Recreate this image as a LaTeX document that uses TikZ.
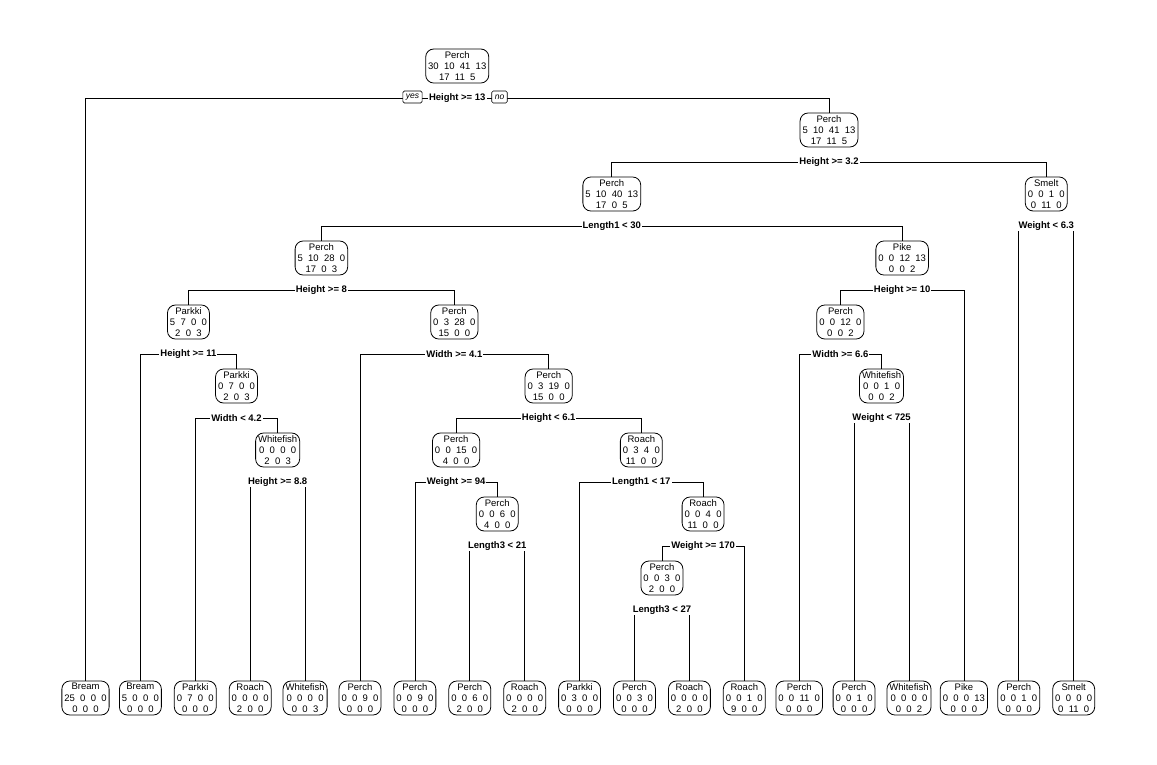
\documentclass[tikz,border=0pt]{standalone}
\usepackage{fontspec}
\setmainfont{Liberation Sans}
\usetikzlibrary{backgrounds}

\begin{document}
\begin{tikzpicture}[x=1pt, y=-1pt,
    fishbox/.style={draw, rounded corners=8pt, line width=0.8pt, align=center,
      font=\fontsize{9.5}{11.3}\selectfont, inner xsep=2.5pt, inner ysep=2pt, minimum height=34pt},
    splitlab/.style={fill=white, font=\fontsize{9.5}{11}\selectfont\bfseries, inner xsep=1pt, inner ysep=1pt},
    yesno/.style={draw, fill=white, rounded corners=1.5pt, line width=0.6pt,
      font=\fontsize{8.5}{9}\selectfont\itshape, inner xsep=3pt, inner ysep=1pt, minimum height=12pt},
    branch/.style={line width=0.8pt}]
  \useasboundingbox (0,0) rectangle (1157,764);

  % Inner nodes
  \node[fishbox] (n1) at (457.25,66) {Perch\\30~~10~~41~~13\\17~~11~~5};
  \node[fishbox] (n3) at (829,130) {Perch\\5~~10~~41~~13\\17~~11~~5};
  \node[fishbox] (n6) at (611.8,194) {Perch\\5~~10~~40~~13\\17~~0~~5};
  \node[fishbox] (n7) at (1046.25,194) {Smelt\\0~~0~~1~~0\\0~~11~~0};
  \node[fishbox] (n12) at (321.4,258) {Perch\\5~~10~~28~~0\\17~~0~~3};
  \node[fishbox] (n13) at (902.15,258) {Pike\\0~~0~~12~~13\\0~~0~~2};
  \node[fishbox] (n24) at (188.45,322) {Parkki\\5~~7~~0~~0\\2~~0~~3};
  \node[fishbox] (n25) at (454.35,322) {Perch\\0~~3~~28~~0\\15~~0~~0};
  \node[fishbox] (n26) at (840.4,322) {Perch\\0~~0~~12~~0\\0~~0~~2};
  \node[fishbox] (n49) at (236.5,386) {Parkki\\0~~7~~0~~0\\2~~0~~3};
  \node[fishbox] (n51) at (548.7,386) {Perch\\0~~3~~19~~0\\15~~0~~0};
  \node[fishbox] (n53) at (881.55,386) {Whitefish\\0~~0~~1~~0\\0~~0~~2};
  \node[fishbox] (n99) at (277.65,450) {Whitefish\\0~~0~~0~~0\\2~~0~~3};
  \node[fishbox] (n102) at (456.1,450) {Perch\\0~~0~~15~~0\\4~~0~~0};
  \node[fishbox] (n103) at (641.35,450) {Roach\\0~~3~~4~~0\\11~~0~~0};
  \node[fishbox] (n205) at (497.25,514) {Perch\\0~~0~~6~~0\\4~~0~~0};
  \node[fishbox] (n207) at (703.1,514) {Roach\\0~~0~~4~~0\\11~~0~~0};
  \node[fishbox] (n414) at (661.95,578) {Perch\\0~~0~~3~~0\\2~~0~~0};

  % Leaves
  \node[fishbox] (n2) at (85.5,698) {Bream\\25~~0~~0~~0\\0~~0~~0};
  \node[fishbox] (n48) at (140.4,698) {Bream\\5~~0~~0~~0\\0~~0~~0};
  \node[fishbox] (n98) at (195.3,698) {Parkki\\0~~7~~0~~0\\0~~0~~0};
  \node[fishbox] (n198) at (250.2,698) {Roach\\0~~0~~0~~0\\2~~0~~0};
  \node[fishbox] (n199) at (305.1,698) {Whitefish\\0~~0~~0~~0\\0~~0~~3};
  \node[fishbox] (n50) at (360,698) {Perch\\0~~0~~9~~0\\0~~0~~0};
  \node[fishbox] (n204) at (414.9,698) {Perch\\0~~0~~9~~0\\0~~0~~0};
  \node[fishbox] (n410) at (469.8,698) {Perch\\0~~0~~6~~0\\2~~0~~0};
  \node[fishbox] (n411) at (524.7,698) {Roach\\0~~0~~0~~0\\2~~0~~0};
  \node[fishbox] (n206) at (579.6,698) {Parkki\\0~~3~~0~~0\\0~~0~~0};
  \node[fishbox] (n828) at (634.5,698) {Perch\\0~~0~~3~~0\\0~~0~~0};
  \node[fishbox] (n829) at (689.4,698) {Roach\\0~~0~~0~~0\\2~~0~~0};
  \node[fishbox] (n415) at (744.3,698) {Roach\\0~~0~~1~~0\\9~~0~~0};
  \node[fishbox] (n52) at (799.2,698) {Perch\\0~~0~~11~~0\\0~~0~~0};
  \node[fishbox] (n106) at (854.1,698) {Perch\\0~~0~~1~~0\\0~~0~~0};
  \node[fishbox] (n107) at (909,698) {Whitefish\\0~~0~~0~~0\\0~~0~~2};
  \node[fishbox] (n27) at (963.9,698) {Pike\\0~~0~~0~~13\\0~~0~~0};
  \node[fishbox] (n14) at (1018.8,698) {Perch\\0~~0~~1~~0\\0~~0~~0};
  \node[fishbox] (n15) at (1073.7,698) {Smelt\\0~~0~~0~~0\\0~~11~~0};

  % Split labels
  \node[splitlab] (s1) at (457.25,98) {Height >= 13};
  \node[yesno] (yes) at (412.5,97) {yes};
  \node[yesno] (no) at (499.5,97) {no};
  \node[splitlab] (s3) at (829,162) {Height >= 3.2};
  \node[splitlab] (s6) at (611.8,226) {Length1 < 30};
  \node[splitlab] (s7) at (1046.25,226) {Weight < 6.3};
  \node[splitlab] (s12) at (321.4,290) {Height >= 8};
  \node[splitlab] (s13) at (902.15,290) {Height >= 10};
  \node[splitlab] (s24) at (188.45,354) {Height >= 11};
  \node[splitlab] (s25) at (454.35,354) {Width >= 4.1};
  \node[splitlab] (s26) at (840.4,354) {Width >= 6.6};
  \node[splitlab] (s49) at (236.5,418) {Width < 4.2};
  \node[splitlab] (s51) at (548.7,418) {Height < 6.1};
  \node[splitlab] (s53) at (881.55,418) {Weight < 725};
  \node[splitlab] (s99) at (277.65,482) {Height >= 8.8};
  \node[splitlab] (s102) at (456.1,482) {Weight >= 94};
  \node[splitlab] (s103) at (641.35,482) {Length1 < 17};
  \node[splitlab] (s205) at (497.25,546) {Length3 < 21};
  \node[splitlab] (s207) at (703.1,546) {Weight >= 170};
  \node[splitlab] (s414) at (661.95,610) {Length3 < 27};

  % Branches
  \begin{scope}[on background layer]
    \draw[branch] (s1.center) -| (n2.north);   \draw[branch] (s1.center) -| (n3.north);
    \draw[branch] (s3.center) -| (n6.north);   \draw[branch] (s3.center) -| (n7.north);
    \draw[branch] (s6.center) -| (n12.north);  \draw[branch] (s6.center) -| (n13.north);
    \draw[branch] (s7.center) -| (n14.north);  \draw[branch] (s7.center) -| (n15.north);
    \draw[branch] (s12.center) -| (n24.north); \draw[branch] (s12.center) -| (n25.north);
    \draw[branch] (s13.center) -| (n26.north); \draw[branch] (s13.center) -| (n27.north);
    \draw[branch] (s24.center) -| (n48.north); \draw[branch] (s24.center) -| (n49.north);
    \draw[branch] (s25.center) -| (n50.north); \draw[branch] (s25.center) -| (n51.north);
    \draw[branch] (s26.center) -| (n52.north); \draw[branch] (s26.center) -| (n53.north);
    \draw[branch] (s49.center) -| (n98.north); \draw[branch] (s49.center) -| (n99.north);
    \draw[branch] (s51.center) -| (n102.north); \draw[branch] (s51.center) -| (n103.north);
    \draw[branch] (s53.center) -| (n106.north); \draw[branch] (s53.center) -| (n107.north);
    \draw[branch] (s99.center) -| (n198.north); \draw[branch] (s99.center) -| (n199.north);
    \draw[branch] (s102.center) -| (n204.north); \draw[branch] (s102.center) -| (n205.north);
    \draw[branch] (s103.center) -| (n206.north); \draw[branch] (s103.center) -| (n207.north);
    \draw[branch] (s205.center) -| (n410.north); \draw[branch] (s205.center) -| (n411.north);
    \draw[branch] (s207.center) -| (n414.north); \draw[branch] (s207.center) -| (n415.north);
    \draw[branch] (s414.center) -| (n828.north); \draw[branch] (s414.center) -| (n829.north);
  \end{scope}
\end{tikzpicture}
\end{document}
